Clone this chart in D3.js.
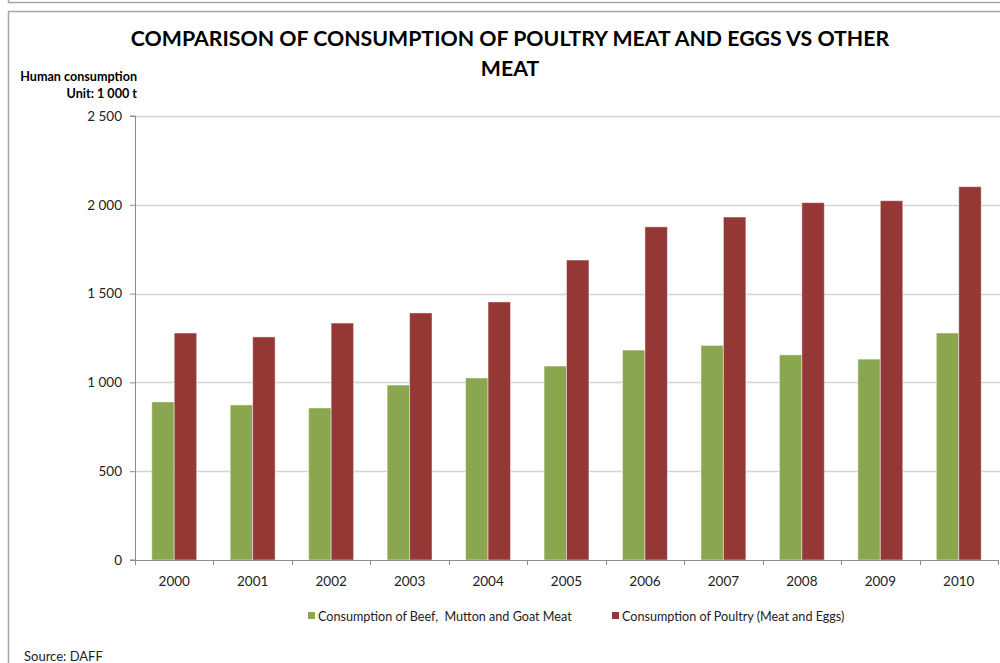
<!DOCTYPE html>
<html>
<head>
<meta charset="utf-8">
<script src="https://cdn.jsdelivr.net/npm/d3@7"></script>
<style>
  body { margin: 0; background: #fff; }
  svg { display: block; }
</style>
</head>
<body>
<svg id="chart" width="1000" height="663"></svg>
<script>
const years = ["2000", "2001", "2002", "2003", "2004", "2005", "2006", "2007", "2008", "2009", "2010"];
const beefMuttonGoat = [890, 873, 856, 985, 1025, 1092, 1182, 1208, 1155, 1131, 1278];
const poultry = [1278, 1256, 1334, 1391, 1453, 1689, 1876, 1931, 2012, 2023, 2102];
const yTicks = [0, 500, 1000, 1500, 2000, 2500];
const seriesNames = ["Consumption of Beef,  Mutton and Goat Meat", "Consumption of Poultry (Meat and Eggs)"];
const seriesColors = ["#8aa64e", "#953735"];

const font = "Lato, 'Liberation Sans', sans-serif";
const margin = { left: 135, top: 116, right: 2 };
const width = 998 - margin.left;
const height = 444;

const svg = d3.select("#chart").attr("font-family", font);

// frames (the top one is the bottom of a previous chart, cut by the page edge)
svg.append("rect").attr("x", 8.5).attr("y", -20).attr("width", 1000).attr("height", 22.5)
    .attr("fill", "#fff").attr("stroke", "#a6a6a6").attr("stroke-width", 1.5);
svg.append("text").attr("x", 28).attr("y", -1).attr("font-size", 13).attr("fill", "#777")
    .text("Source: DAFF");
svg.append("rect").attr("x", 8.5).attr("y", 11.5).attr("width", 1000).attr("height", 700)
    .attr("fill", "#fff").attr("stroke", "#a6a6a6").attr("stroke-width", 1.5);

// title
const title = svg.append("text").attr("text-anchor", "middle").attr("font-weight", "bold")
    .attr("font-size", 21.3).attr("fill", "#000");
title.append("tspan").attr("x", 510).attr("y", 46).text("COMPARISON OF CONSUMPTION OF POULTRY MEAT AND EGGS VS OTHER");
title.append("tspan").attr("x", 510).attr("y", 76).text("MEAT");

// y label
svg.append("text").attr("x", 137).attr("y", 81).attr("text-anchor", "end")
    .attr("font-weight", "bold").attr("font-size", 12.6).text("Human consumption");
svg.append("text").attr("x", 137).attr("y", 98).attr("text-anchor", "end")
    .attr("font-weight", "bold").attr("font-size", 12.6).text("Unit: 1 000 t");

const x0 = d3.scaleBand().domain(years).range([0, width]).padding(0);
const x1 = d3.scaleBand().domain([0, 1])
    .range([x0.bandwidth() * 0.214, x0.bandwidth() * 0.786]).padding(0);
const y = d3.scaleLinear().domain([0, 2500]).range([height, 0]);

const g = svg.append("g").attr("transform", `translate(${margin.left},${margin.top})`);

// gridlines
g.append("g").selectAll("line").data(yTicks.filter(d => d > 0)).join("line")
    .attr("x1", 0).attr("x2", width + 10)
    .attr("y1", d => Math.round(y(d)) + 0.5).attr("y2", d => Math.round(y(d)) + 0.5)
    .attr("stroke", "#d4d4d4").attr("stroke-width", 1.5);

// bars
const groups = g.append("g").selectAll("g").data(years).join("g")
    .attr("transform", d => `translate(${x0(d)},0)`);
groups.selectAll("rect")
    .data((d, i) => [beefMuttonGoat[i], poultry[i]])
    .join("rect")
    .attr("x", (d, j) => x1(j))
    .attr("width", x1.bandwidth())
    .attr("y", d => y(d))
    .attr("height", d => y(0) - y(d))
    .attr("fill", (d, j) => seriesColors[j])
    .attr("stroke", "rgba(255,255,255,0.45)")
    .attr("stroke-width", 1);

// y axis
const yAxis = g.append("g")
    .call(d3.axisLeft(y).tickValues(yTicks).tickSize(5).tickPadding(8)
        .tickFormat(d => d3.format(",")(d).replace(",", " ")));
yAxis.select(".domain").attr("stroke", "#8c8c8c").attr("d", `M-5,${height}H0.5V0H-5`);
yAxis.selectAll(".tick line").attr("stroke", "#8c8c8c");
yAxis.selectAll("text").attr("font-family", font).attr("font-size", 13.5).attr("fill", "#222");

// x axis
const xAxis = g.append("g").attr("transform", `translate(0,${height})`)
    .call(d3.axisBottom(x0).tickSize(0).tickPadding(16));
xAxis.select(".domain").attr("stroke", "#8c8c8c").attr("d", `M0,0.5H${width}`);
xAxis.selectAll("text").attr("font-family", font).attr("font-size", 13.5).attr("fill", "#222");
g.append("g").selectAll("line").data(years.concat(["end"])).join("line")
    .attr("x1", (d, i) => Math.round(i * x0.step()) + 0.5)
    .attr("x2", (d, i) => Math.round(i * x0.step()) + 0.5)
    .attr("y1", height).attr("y2", height + 5)
    .attr("stroke", "#8c8c8c");

// legend
const legendX = [308, 612];
const legend = svg.append("g").selectAll("g").data(seriesNames).join("g")
    .attr("transform", (d, i) => `translate(${legendX[i]},612)`);
legend.append("rect").attr("width", 7).attr("height", 7).attr("fill", (d, i) => seriesColors[i]);
legend.append("text").attr("x", 10).attr("y", 8.5).attr("font-size", 12.6).attr("fill", "#222")
    .attr("xml:space", "preserve").text(d => d);

// source
svg.append("text").attr("x", 24).attr("y", 661).attr("font-size", 13).attr("fill", "#222")
    .text("Source: DAFF");
</script>
</body>
</html>
